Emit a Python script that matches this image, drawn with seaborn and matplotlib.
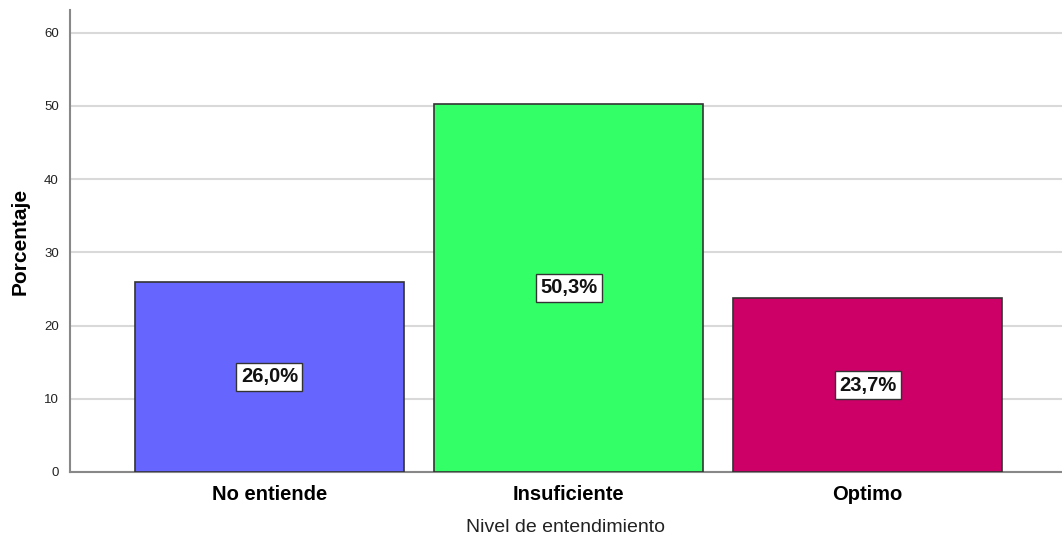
import numpy as np
import pandas as pd
import matplotlib
matplotlib.use("Agg")
import matplotlib.pyplot as plt
import seaborn as sns

#%% data
categorias = ["No entiende", "Insuficiente", "Optimo"]
porcentajes = [26.0, 50.3, 23.7]
colores = ["#6666FF", "#33FF66", "#CC0066"]
yticks = [0, 10, 20, 30, 40, 50, 60]

df = pd.DataFrame({"nivel": categorias, "pct": porcentajes})

#%% plot
sns.set_style("white")
plt.rcParams["font.family"] = ["Liberation Sans", "DejaVu Sans"]

fig = plt.figure(figsize=(10.62, 5.36), dpi=100)
ax = fig.add_axes([70 / 1062, 1 - 472 / 536, 1 - 70 / 1062, (472 - 10) / 536])

sns.barplot(data=df, x="nivel", y="pct", hue="nivel", palette=colores,
            saturation=1, width=0.9, edgecolor="#333333", linewidth=1.2,
            legend=False, ax=ax, zorder=3)

ax.set_xlim(-0.667, 2.65)
ax.set_ylim(0, 63.1)
ax.set_yticks(yticks)
ax.set_yticklabels([str(t) for t in yticks], fontsize=9.5, color="#222222")
ax.yaxis.grid(True, color="#D9D9D9", linewidth=1.5, zorder=0)
ax.set_axisbelow(True)
ax.tick_params(axis="y", length=0, pad=8)
ax.tick_params(axis="x", length=0, pad=9)
for lab in ax.get_xticklabels():
    lab.set_fontweight("bold")
    lab.set_fontsize(14.5)
    lab.set_color("black")

for s in ["top", "right"]:
    ax.spines[s].set_visible(False)
for s in ["left", "bottom"]:
    ax.spines[s].set_color("#888888")
    ax.spines[s].set_linewidth(1.5)

ax.set_ylabel("Porcentaje", fontsize=15, fontweight="bold", labelpad=10, color="black")
ax.set_xlabel("Nivel de entendimiento", fontsize=14, labelpad=11, color="#222222")

for i, v in enumerate(porcentajes):
    ax.text(i, v / 2, f"{v:.1f}%".replace(".", ","), ha="center", va="center",
            fontsize=14.5, fontweight="bold", color="#111111",
            bbox=dict(boxstyle="square,pad=0.22", facecolor="white",
                      edgecolor="#333333", linewidth=1), zorder=5)

fig.savefig("out.png", dpi=100)
